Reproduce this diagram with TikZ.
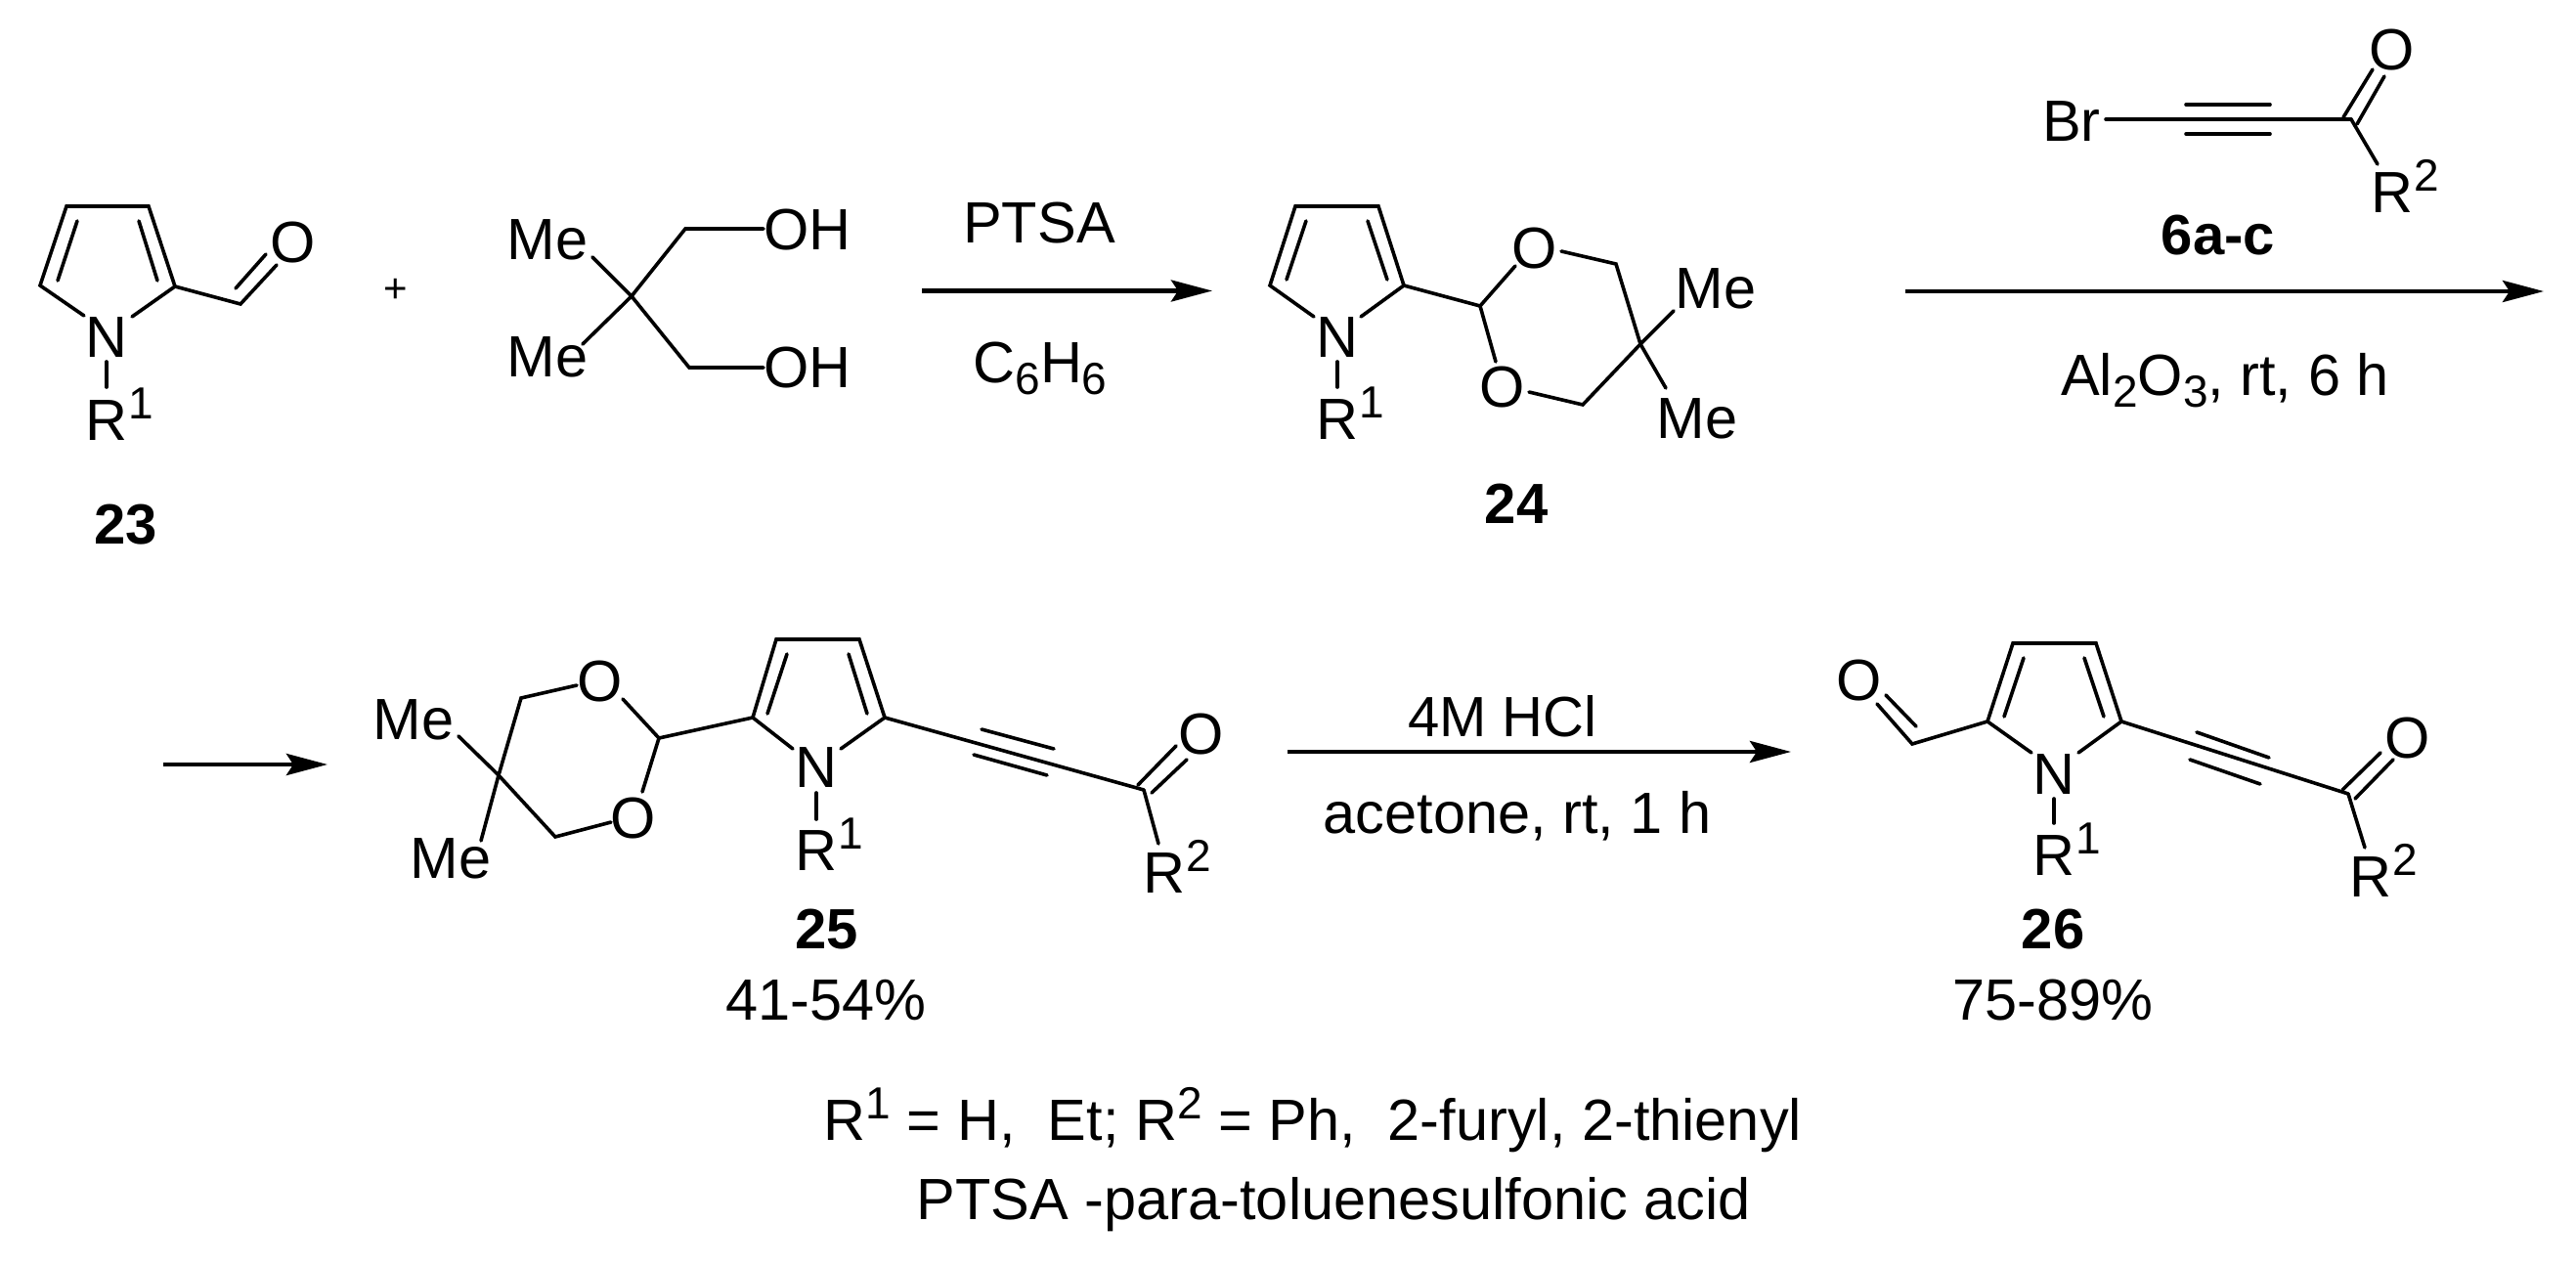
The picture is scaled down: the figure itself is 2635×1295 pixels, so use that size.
\documentclass[tikz,border=0pt]{standalone}
\usepackage{fontspec}
\setmainfont{Liberation Sans}
\usetikzlibrary{arrows.meta}
\newcommand{\supn}[1]{\smash{\raisebox{22pt}{\fontsize{46}{46}\selectfont #1}}}
\newcommand{\subn}[1]{\smash{\raisebox{-12pt}{\fontsize{46}{46}\selectfont #1}}}
\newcommand{\Rlab}[1]{R\rlap{\kern1pt\supn{#1}}}
\tikzset{
  bond/.style={line width=3.6pt,line join=miter,line cap=round},
  rxn/.style={line width=4.5pt,-{Stealth[length=42pt,width=22pt,inset=7pt]}},
  lab/.style={inner sep=0pt,outer sep=0pt,text=black,font=\fontsize{59.5}{62}\selectfont},
  bold/.style={lab,font=\fontsize{58}{60}\selectfont\bfseries},
  base/.style={lab,anchor=base},
}
\begin{document}
\begin{tikzpicture}[x=1pt,y=-1pt]
\useasboundingbox (0,0) rectangle (2635,1295);
% ---------- 23
\node[lab] (n23) at (109,345) {N};
\node[lab] (r23) at (109,430) {\Rlab{1}};
\node[lab] (o23) at (300,248) {O};
\node[bold] (l23) at (129,537) {23};
\coordinate (a1) at (68,211);
\coordinate (a2) at (152,211);
\coordinate (a3) at (179,293);
\coordinate (a4) at (41,292);
\coordinate (a5) at (246,311);
\draw[bond] ([shift={(-23,-22)}]n23.center) -- (a4) -- (a1) -- (a2) -- (a3) -- ([shift={(26,-21)}]n23.center);
\draw[bond] ([shift={(11,15)}]a1) -- ([shift={(18,-5)}]a4);
\draw[bond] ([shift={(-10,15)}]a2) -- ([shift={(-18,-6)}]a3);
\draw[bond] (a3) -- (a5) -- ([shift={(-17,23)}]o23.center);
\draw[bond] ([shift={(-5,-16)}]a5) -- ([shift={(-28,12)}]o23.center);
\draw[bond] ([shift={(0,25)}]n23.center) -- ([shift={(0,-34)}]r23.center);
\node[lab,font=\fontsize{42}{42}\selectfont] (plus) at (405,297) {+};
% ---------- diol
\node[lab] (me1) at (560,245) {Me};
\node[lab] (me2) at (560,365) {Me};
\node[lab] (oh1) at (826,235) {OH};
\node[lab] (oh2) at (826,376) {OH};
\coordinate (q) at (646,303);
\coordinate (u1) at (701,234);
\coordinate (u2) at (705,376);
\draw[bond] (q) -- ([shift={(46,18)}]me1.center);
\draw[bond] (q) -- ([shift={(36,-13)}]me2.center);
\draw[bond] (q) -- (u1) -- ([shift={(-45,-1)}]oh1.center);
\draw[bond] (q) -- (u2) -- ([shift={(-45,0)}]oh2.center);
% ---------- arrow 1
\coordinate (ar1s) at (943,297.5);
\coordinate (ar1e) at (1240,297.5);
\draw[rxn] (ar1s) -- (ar1e);
\node[lab] (ptsa) at (1063,228) {PTSA};
\node[base] (c6h6) at (1064,391) {C\subn{6}H\subn{6}};
% ---------- 24
\node[lab] (n24) at (1368,345) {N};
\node[lab] (r24) at (1368,429) {\Rlab{1}};
\node[lab] (ot) at (1570,254) {O};
\node[lab] (ob) at (1537,396) {O};
\node[lab] (me3) at (1755,295) {Me};
\node[lab] (me4) at (1736,428) {Me};
\node[bold] (l24) at (1551,515) {24};
\coordinate (b1) at (1325,211);
\coordinate (b2) at (1410,211);
\coordinate (b3) at (1436,292);
\coordinate (b4) at (1299,292);
\coordinate (b5) at (1514,313);
\coordinate (b6) at (1653,270);
\coordinate (b7) at (1619,414);
\coordinate (b8) at (1678,352);
\draw[bond] ([shift={(-24,-21)}]n24.center) -- (b4) -- (b1) -- (b2) -- (b3) -- ([shift={(24,-21)}]n24.center);
\draw[bond] ([shift={(11,15)}]b1) -- ([shift={(17,-6)}]b4);
\draw[bond] ([shift={(-11,15)}]b2) -- ([shift={(-17,-6)}]b3);
\draw[bond] (b3) -- (b5) -- ([shift={(-20,18)}]ot.center);
\draw[bond] (b5) -- ([shift={(-7,-26)}]ob.center);
\draw[bond] ([shift={(27,3)}]ot.center) -- (b6) -- (b8) -- (b7) -- ([shift={(27,5)}]ob.center);
\draw[bond] (b8) -- ([shift={(-43,23)}]me3.center);
\draw[bond] (b8) -- ([shift={(-32,-31)}]me4.center);
\draw[bond] ([shift={(0,25)}]n24.center) -- ([shift={(0,-33)}]r24.center);
% ---------- 6a-c
\node[lab] (br) at (2119,124) {Br};
\node[lab] (o6a) at (2447,51) {O};
\node[lab] (r6a) at (2447,197) {\Rlab{2}};
\node[bold] (l6) at (2269,241) {6a-c};
\coordinate (d1) at (2405,122);
\draw[bond] ([shift={(35,-2)}]br.center) -- (d1);
\draw[bond] ([shift={(-169,-15)}]d1) -- ([shift={(-83,-15)}]d1);
\draw[bond] ([shift={(-169,15)}]d1) -- ([shift={(-83,15)}]d1);
\draw[bond] ([shift={(-8,-2)}]d1) -- ([shift={(-20,20)}]o6a.center);
\draw[bond] ([shift={(6,5)}]d1) -- ([shift={(-8,27)}]o6a.center);
\draw[bond] (d1) -- ([shift={(-15,-29)}]r6a.center);
% ---------- arrow 2
\coordinate (ar2s) at (1949,298);
\coordinate (ar2e) at (2602,298);
\draw[rxn] (ar2s) -- (ar2e);
\node[base] (al) at (2276,404) {Al\subn{2}O\subn{3}, rt, 6 h};
% ---------- arrow 3
\coordinate (ar3s) at (167,782);
\coordinate (ar3e) at (335,782);
\draw[rxn] (ar3s) -- (ar3e);
% ---------- 25
\node[lab] (n25) at (835,785) {N};
\node[lab] (r25) at (835,870) {\Rlab{1}};
\node[lab] (ot2) at (614,697) {O};
\node[lab] (ob2) at (648,837) {O};
\node[lab] (me5) at (423,736) {Me};
\node[lab] (me6) at (461,878) {Me};
\node[lab] (o5) at (1229,751) {O};
\node[lab] (r5) at (1191,893) {\Rlab{2}};
\node[bold] (l25) at (846,951) {25};
\node[lab] (y25) at (845,1023) {41-54\%};
\coordinate (c1) at (794,654);
\coordinate (c2) at (879,654);
\coordinate (c3) at (905,734);
\coordinate (c4) at (770,734);
\coordinate (c5) at (674,755);
\coordinate (c6) at (533,714);
\coordinate (c7) at (568,856);
\coordinate (c8) at (510,793);
\coordinate (c9) at (1170,808);
\draw[bond] ([shift={(-24,-19)}]n25.center) -- (c4) -- (c1) -- (c2) -- (c3) -- ([shift={(25,-19)}]n25.center);
\draw[bond] ([shift={(11,15)}]c1) -- ([shift={(15,-4)}]c4);
\draw[bond] ([shift={(-11,15)}]c2) -- ([shift={(-18,-4)}]c3);
\draw[bond] (c4) -- (c5) -- ([shift={(23,18)}]ot2.center);
\draw[bond] (c5) -- ([shift={(9,-27)}]ob2.center);
\draw[bond] ([shift={(-24,4)}]ot2.center) -- (c6) -- (c8) -- (c7) -- ([shift={(-23,4)}]ob2.center);
\draw[bond] (c8) -- ([shift={(46,17)}]me5.center);
\draw[bond] (c8) -- ([shift={(31,-18)}]me6.center);
\draw[bond] ([shift={(0,26)}]n25.center) -- ([shift={(0,-32)}]r25.center);
\draw[bond] (c3) -- (c9);
\draw[bond] ([shift={(-166,-62)}]c9) -- ([shift={(-92,-42)}]c9);
\draw[bond] ([shift={(-174,-36)}]c9) -- ([shift={(-99,-15)}]c9);
\draw[bond] ([shift={(-6,-5)}]c9) -- ([shift={(-26,12)}]o5.center);
\draw[bond] ([shift={(8,3)}]c9) -- ([shift={(-15,26)}]o5.center);
\draw[bond] (c9) -- ([shift={(-6,-30)}]r5.center);
% ---------- arrow 4
\coordinate (ar4s) at (1317,769);
\coordinate (ar4e) at (1832,769);
\draw[rxn] (ar4s) -- (ar4e);
\node[lab,font=\fontsize{58}{60}\selectfont] (hcl) at (1537,733) {4M HCl};
\node[base] (acet) at (1552,852) {acetone, rt, 1 h};
% ---------- 26
\node[lab] (n26) at (2101,792) {N};
\node[lab] (r26) at (2101,875) {\Rlab{1}};
\node[lab] (o6) at (1902,696) {O};
\node[lab] (o7) at (2463,755) {O};
\node[lab] (r7) at (2425,897) {\Rlab{2}};
\node[bold] (l26) at (2100,951) {26};
\node[lab] (y26) at (2100,1023) {75-89\%};
\coordinate (e1) at (2059,658);
\coordinate (e2) at (2144,658);
\coordinate (e3) at (2170,738);
\coordinate (e4) at (2033,738);
\coordinate (e5) at (1956,761);
\coordinate (e6) at (2402,812);
\draw[bond] ([shift={(-23,-22)}]n26.center) -- (e4) -- (e1) -- (e2) -- (e3) -- ([shift={(25,-22)}]n26.center);
\draw[bond] ([shift={(11,15)}]e1) -- ([shift={(17,-5)}]e4);
\draw[bond] ([shift={(-12,15)}]e2) -- ([shift={(-18,-5)}]e3);
\draw[bond] (e4) -- (e5) -- ([shift={(18,24)}]o6.center);
\draw[bond] ([shift={(4,-18)}]e5) -- ([shift={(27,15)}]o6.center);
\draw[bond] ([shift={(0,25)}]n26.center) -- ([shift={(0,-33)}]r26.center);
\draw[bond] (e3) -- (e6);
\draw[bond] ([shift={(-155,-63)}]e6) -- ([shift={(-81,-37)}]e6);
\draw[bond] ([shift={(-162,-35)}]e6) -- ([shift={(-90,-10)}]e6);
\draw[bond] ([shift={(-6,-4)}]e6) -- ([shift={(-28,15)}]o7.center);
\draw[bond] ([shift={(7,5)}]e6) -- ([shift={(-15,22)}]o7.center);
\draw[bond] (e6) -- ([shift={(-6,-30)}]r7.center);
% ---------- footnotes
\node[base] (fn1) at (1343,1166) {R\supn{1} = H,\ \ Et; R\supn{2} = Ph,\ \ 2-furyl, 2-thienyl};
\node[base] (fn2) at (1364.5,1247) {PTSA -para-toluenesulfonic acid};
\end{tikzpicture}
\end{document}
